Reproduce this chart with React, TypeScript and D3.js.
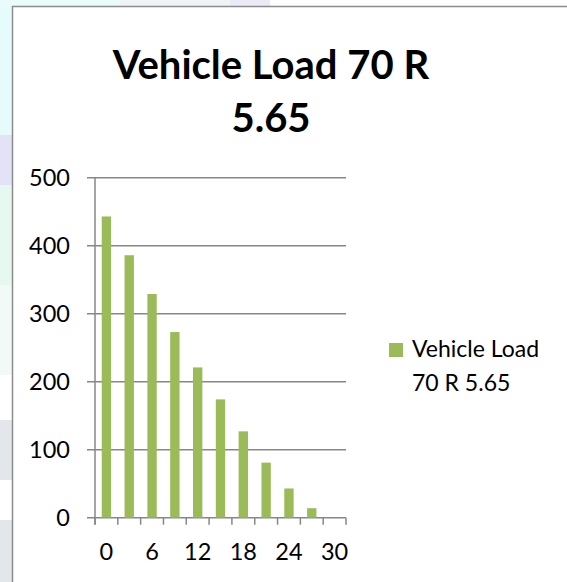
import React from "react";
import * as d3 from "d3";

const categories = ["0", "3", "6", "9", "12", "15", "18", "21", "24", "27", "30"];
const values = [443, 386, 329, 273, 221, 174, 127, 81, 43, 14, 0];
const yTicks = [0, 100, 200, 300, 400, 500];
const xLabelEvery = 2;
const titleLines = ["Vehicle Load 70 R", "5.65"];
const legendLines = ["Vehicle Load", "70 R 5.65"];

const W = 567;
const H = 582;
const FONT = "Lato, 'Open Sans', sans-serif";

export default function App() {
  const x = d3
    .scaleBand<string>()
    .domain(categories)
    .range([95, 346])
    .paddingInner(0.59)
    .paddingOuter(0.295);
  const y = d3.scaleLinear().domain([0, 500]).range([517.7, 177.7]);
  const step = x.step();
  const left = 95;
  const right = 346;

  return (
    <svg
      width={W}
      height={H}
      style={{ position: "absolute", left: 0, top: 0 }}
      xmlns="http://www.w3.org/2000/svg"
    >
      {/* background watermark outside chart box */}
      <rect x={0} y={0} width={W} height={H} fill="#ffffff" />
      <rect x={0} y={0} width={13} height={135} fill="#e6fcfc" />
      <rect x={0} y={0} width={120} height={7} fill="#e9fbfb" />
      <rect x={120} y={0} width={110} height={7} fill="#f0f3f5" />
      <rect x={230} y={0} width={40} height={7} fill="#ebebf8" />
      <rect x={0} y={135} width={13} height={50} fill="#e3e2f6" />
      <rect x={0} y={185} width={13} height={100} fill="#e6f8f0" />
      <rect x={0} y={285} width={13} height={90} fill="#f1faf6" />
      <rect x={0} y={420} width={13} height={60} fill="#e3e6ea" />
      <rect x={0} y={520} width={13} height={62} fill="#e3e6ea" />

      {/* chart box */}
      <rect x={12.5} y={6.5} width={W} height={H} fill="#ffffff" stroke="#8c8c8c" strokeWidth={1.5} />

      {/* title */}
      {titleLines.map((t, i) => (
        <text
          key={t}
          x={271}
          y={79 + i * 53}
          textAnchor="middle"
          fontFamily={FONT}
          fontWeight="bold"
          fontSize={40}
          fill="#000"
        >
          {t}
        </text>
      ))}

      {/* gridlines */}
      {yTicks.map((t) => (
        <line
          key={t}
          x1={87}
          x2={right}
          y1={y(t)}
          y2={y(t)}
          stroke="#878787"
          strokeWidth={1.5}
        />
      ))}

      {/* bars */}
      {categories.map((c, i) => (
        <rect
          key={c}
          x={x(c)}
          y={y(values[i])}
          width={x.bandwidth()}
          height={y(0) - y(values[i])}
          fill="#9bbb59"
        />
      ))}

      {/* y axis */}
      <line x1={left} x2={left} y1={y(500)} y2={y(0) + 7} stroke="#878787" strokeWidth={1.5} />
      {/* x tick marks */}
      {d3.range(categories.length + 1).map((i) => (
        <line
          key={i}
          x1={left + i * step}
          x2={left + i * step}
          y1={y(0)}
          y2={y(0) + 7}
          stroke="#878787"
          strokeWidth={1.5}
        />
      ))}

      {/* y labels */}
      {yTicks.map((t) => (
        <text
          key={t}
          x={70}
          y={y(t) + 8.5}
          textAnchor="end"
          fontFamily={FONT}
          fontSize={23.5}
          fill="#000"
        >
          {t}
        </text>
      ))}

      {/* x labels */}
      {categories.map((c, i) =>
        i % xLabelEvery === 0 ? (
          <text
            key={c}
            x={(x(c) as number) + x.bandwidth() / 2}
            y={560}
            textAnchor="middle"
            fontFamily={FONT}
            fontSize={23.5}
            fill="#000"
          >
            {c}
          </text>
        ) : null
      )}

      {/* legend */}
      <rect x={389} y={343} width={14} height={14} fill="#9bbb59" />
      {legendLines.map((t, i) => (
        <text
          key={t}
          x={412}
          y={357 + i * 34}
          fontFamily={FONT}
          fontSize={23}
          fill="#000"
        >
          {t}
        </text>
      ))}
    </svg>
  );
}
